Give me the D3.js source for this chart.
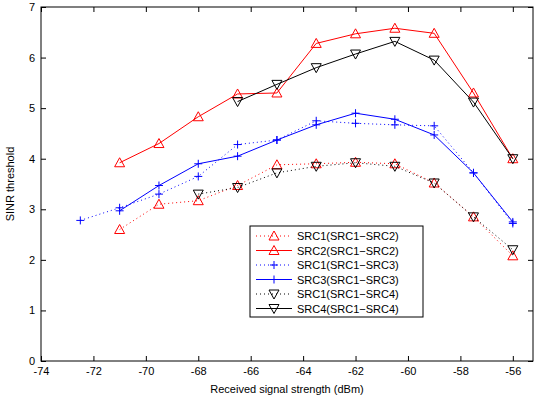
<!DOCTYPE html>
<meta charset="utf-8">
<script src="https://d3js.org/d3.v7.min.js"></script>
<style>body{margin:0;background:#fff}text{font-family:"Liberation Sans",Arial,sans-serif}</style>
<div id="chart"></div>
<script>
const xs = [-71, -69.5, -68, -66.5, -65, -63.5, -62, -60.5, -59, -57.5, -56];
const xs3 = [-72.5].concat(xs);
const xs4 = xs.slice(2);
const src1_12 = [2.6, 3.1, 3.17, 3.47, 3.88, 3.9, 3.93, 3.9, 3.52, 2.85, 2.08];
const src2_12 = [3.92, 4.3, 4.83, 5.28, 5.3, 6.28, 6.47, 6.58, 6.48, 5.3, 4.0];
const src1_13 = [2.78, 3.03, 3.3, 3.65, 4.28, 4.37, 4.75, 4.7, 4.67, 4.65, 3.72, 2.72];
const src3_13 = [2.97, 3.47, 3.9, 4.05, 4.37, 4.67, 4.9, 4.78, 4.47, 3.72, 2.75];
const src1_14 = [3.3, 3.43, 3.72, 3.85, 3.92, 3.85, 3.52, 2.85, 2.2];
const src4_14 = [5.13, 5.47, 5.8, 6.07, 6.32, 5.95, 5.12, 4.0];
const xTicks = [-74, -72, -70, -68, -66, -64, -62, -60, -58, -56];
const yTicks = [0, 1, 2, 3, 4, 5, 6, 7];

const series = [
  {name: "SRC1(SRC1\u2212SRC2)", x: xs, y: src1_12, color: "#ff0000", dash: "1,3", mark: "up"},
  {name: "SRC2(SRC1\u2212SRC2)", x: xs, y: src2_12, color: "#ff0000", dash: null, mark: "up"},
  {name: "SRC1(SRC1\u2212SRC3)", x: xs3, y: src1_13, color: "#0000ff", dash: "1,3", mark: "plus"},
  {name: "SRC3(SRC1\u2212SRC3)", x: xs, y: src3_13, color: "#0000ff", dash: null, mark: "plus"},
  {name: "SRC1(SRC1\u2212SRC4)", x: xs4, y: src1_14, color: "#000000", dash: "1,3", mark: "down"},
  {name: "SRC4(SRC1\u2212SRC4)", x: xs.slice(3), y: src4_14, color: "#000000", dash: null, mark: "down"}
];

const W = 536, H = 404;
const svg = d3.select("#chart").append("svg").attr("width", W).attr("height", H);
const x = d3.scaleLinear().domain([-74, -55.23]).range([41, 533]);
const y = d3.scaleLinear().domain([0, 7]).range([361, 7]);

svg.append("rect").attr("x", 41).attr("y", 7).attr("width", 492).attr("height", 354)
  .attr("fill", "none").attr("stroke", "#000");

svg.append("g").attr("transform", "translate(0,361)")
  .call(d3.axisBottom(x).tickValues(xTicks).tickSize(-5).tickPadding(6).tickFormat(d3.format("d")));
svg.append("g").attr("transform", "translate(0,7)")
  .call(d3.axisTop(x).tickValues(xTicks).tickSize(-5).tickFormat(""));
svg.append("g").attr("transform", "translate(41,0)")
  .call(d3.axisLeft(y).tickValues(yTicks).tickSize(-5).tickPadding(6).tickFormat(d3.format("d")));
svg.append("g").attr("transform", "translate(533,0)")
  .call(d3.axisRight(y).tickValues(yTicks).tickSize(-5).tickFormat(""));
svg.selectAll(".domain").remove();
svg.selectAll(".tick text").attr("font-size", 11).attr("fill", "#000")
  .text(function() { return this.textContent.replace("\u2212", "-"); });

svg.append("text").attr("x", 287).attr("y", 393).attr("text-anchor", "middle")
  .attr("font-size", 11).text("Received signal strength (dBm)");
svg.append("text").attr("transform", "translate(14,184) rotate(-90)").attr("text-anchor", "middle")
  .attr("font-size", 11).text("SINR threshold");

function marker(g, m, cx, cy, color) {
  if (m === "plus") {
    g.append("path").attr("d", `M${cx-4},${cy}H${cx+4}M${cx},${cy-4}V${cy+4}`)
      .attr("stroke", color).attr("fill", "none");
  } else {
    const s = m === "up" ? 1 : -1;
    g.append("path").attr("d", `M${cx},${cy-5*s}L${cx+5},${cy+4*s}L${cx-5},${cy+4*s}Z`)
      .attr("stroke", color).attr("fill", "none");
  }
}

const line = d3.line();
series.forEach(s => {
  const pts = s.x.map((v, i) => [x(v), y(s.y[i])]);
  svg.append("path").attr("d", line(pts)).attr("fill", "none").attr("stroke", s.color)
    .attr("stroke-dasharray", s.dash);
  const g = svg.append("g");
  pts.forEach(p => marker(g, s.mark, p[0], p[1], s.color));
});

const lg = svg.append("g").attr("transform", "translate(250,226)");
lg.append("rect").attr("width", 173).attr("height", 91).attr("fill", "#fff").attr("stroke", "#000");
series.forEach((s, i) => {
  const yy = 10 + i * 14.5;
  lg.append("path").attr("d", `M6,${yy}H42`).attr("stroke", s.color).attr("stroke-dasharray", s.dash);
  marker(lg, s.mark, 24, yy, s.color);
  lg.append("text").attr("x", 47).attr("y", yy + 4).attr("font-size", 11).text(s.name);
});
</script>
